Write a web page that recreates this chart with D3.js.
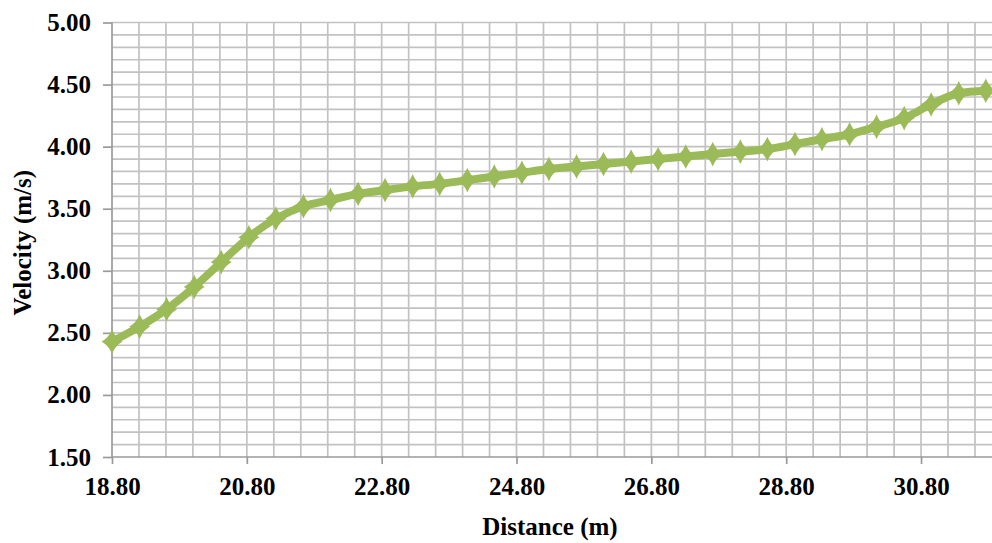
<!DOCTYPE html>
<html>
<head>
<meta charset="utf-8">
<script src="https://cdn.jsdelivr.net/npm/d3@7/dist/d3.min.js"></script>
<style>
  html, body { margin: 0; padding: 0; background: #ffffff; }
  svg { display: block; }
  text { font-family: "Liberation Serif", "Times New Roman", serif; font-weight: bold; fill: #000; }
</style>
</head>
<body>
<script>
// ---- data ----
const distance = [18.80, 19.21, 19.61, 20.02, 20.42, 20.83, 21.23, 21.64, 22.04, 22.45,
                  22.85, 23.26, 23.66, 24.07, 24.47, 24.88, 25.28, 25.69, 26.09, 26.50,
                  26.90, 27.31, 27.71, 28.12, 28.52, 28.93, 29.33, 29.74, 30.14, 30.55,
                  30.95, 31.36, 31.76];
const velocity = [2.43, 2.55, 2.69, 2.87, 3.07, 3.27, 3.42, 3.52, 3.57, 3.62,
                  3.65, 3.68, 3.70, 3.73, 3.76, 3.79, 3.82, 3.84, 3.86, 3.88,
                  3.90, 3.92, 3.94, 3.96, 3.98, 4.02, 4.06, 4.10, 4.16, 4.23,
                  4.34, 4.43, 4.45];
const xTickLabels = [18.80, 20.80, 22.80, 24.80, 26.80, 28.80, 30.80];
const yTickLabels = [1.50, 2.00, 2.50, 3.00, 3.50, 4.00, 4.50, 5.00];
const xTitle = "Distance (m)";
const yTitle = "Velocity (m/s)";

// ---- layout ----
const W = 992, H = 543;
const pLeft = 112, pTop = 22.5, pBottom = 457;
const svg = d3.select("body").append("svg").attr("width", W).attr("height", H);

const x = d3.scaleLinear().domain([18.8, 31.9]).range([pLeft, pLeft + 13.1 * 67.42]);
const y = d3.scaleLinear().domain([1.5, 5.0]).range([pBottom, pTop]);

const gridColor = "#c2c2c2";
const g = svg.append("g");

// vertical gridlines every 0.4 m
const vGrid = d3.range(1, 33).map(i => 18.8 + i * 0.4).filter(v => v <= 31.9);
g.selectAll("line.vg").data(vGrid).join("line")
  .attr("x1", d => x(d)).attr("x2", d => x(d))
  .attr("y1", pTop).attr("y2", pBottom)
  .attr("stroke", gridColor).attr("stroke-width", 1.7);

// horizontal gridlines every 0.1
const hGrid = d3.range(1, 36).map(i => 1.5 + i * 0.1);
g.selectAll("line.hg").data(hGrid).join("line")
  .attr("x1", pLeft).attr("x2", W)
  .attr("y1", d => y(d)).attr("y2", d => y(d))
  .attr("stroke", gridColor).attr("stroke-width", 1.7);

// axes
const axisColor = "#9a9a9a";
const yAxis = d3.axisLeft(y).tickValues(yTickLabels).tickFormat(d3.format(".2f")).tickSize(9).tickPadding(12);
const yg = svg.append("g").attr("transform", `translate(${pLeft},0)`).call(yAxis);
const xAxis = d3.axisBottom(x).tickValues(xTickLabels).tickFormat(d3.format(".2f")).tickSize(7).tickPadding(13);
const xg = svg.append("g").attr("transform", `translate(0,${pBottom})`).call(xAxis);
[yg, xg].forEach(a => {
  a.select(".domain").attr("stroke", axisColor).attr("stroke-width", 1.7);
  a.selectAll(".tick line").attr("stroke", axisColor).attr("stroke-width", 1.7);
  a.selectAll(".tick text").attr("font-family", "Liberation Serif, Times New Roman, serif")
    .attr("font-weight", "bold").attr("font-size", 25).attr("fill", "#000");
});
xg.select(".domain").attr("d", `M${pLeft},0H${W}`);
yg.select(".domain").attr("d", `M0,${pTop}V${pBottom}`);

// line
const green = "#9bbb59";
const line = d3.line().x((d, i) => x(distance[i])).y(d => y(d)).curve(d3.curveMonotoneX);
svg.append("path").datum(velocity)
  .attr("d", line).attr("fill", "none").attr("stroke", green)
  .attr("stroke-width", 8).attr("stroke-linejoin", "round");

// diamond markers
const mw = 9, mh = 10.5;
svg.selectAll("path.mk").data(velocity).join("path")
  .attr("transform", (d, i) => `translate(${x(distance[i])},${y(d)})`)
  .attr("d", `M0,${-mh} Q3,-3.5 ${mw},0 Q3,3.5 0,${mh} Q-3,3.5 ${-mw},0 Q-3,-3.5 0,${-mh}Z`)
  .attr("fill", green).attr("stroke", green).attr("stroke-width", 1.5);

// titles
svg.append("text").attr("x", 550).attr("y", 535).attr("text-anchor", "middle")
  .attr("font-size", 25).text(xTitle);
svg.append("text").attr("transform", `translate(31,${(pTop + pBottom) / 2 + 3}) rotate(-90)`)
  .attr("text-anchor", "middle").attr("font-size", 25).text(yTitle);
</script>
</body>
</html>
